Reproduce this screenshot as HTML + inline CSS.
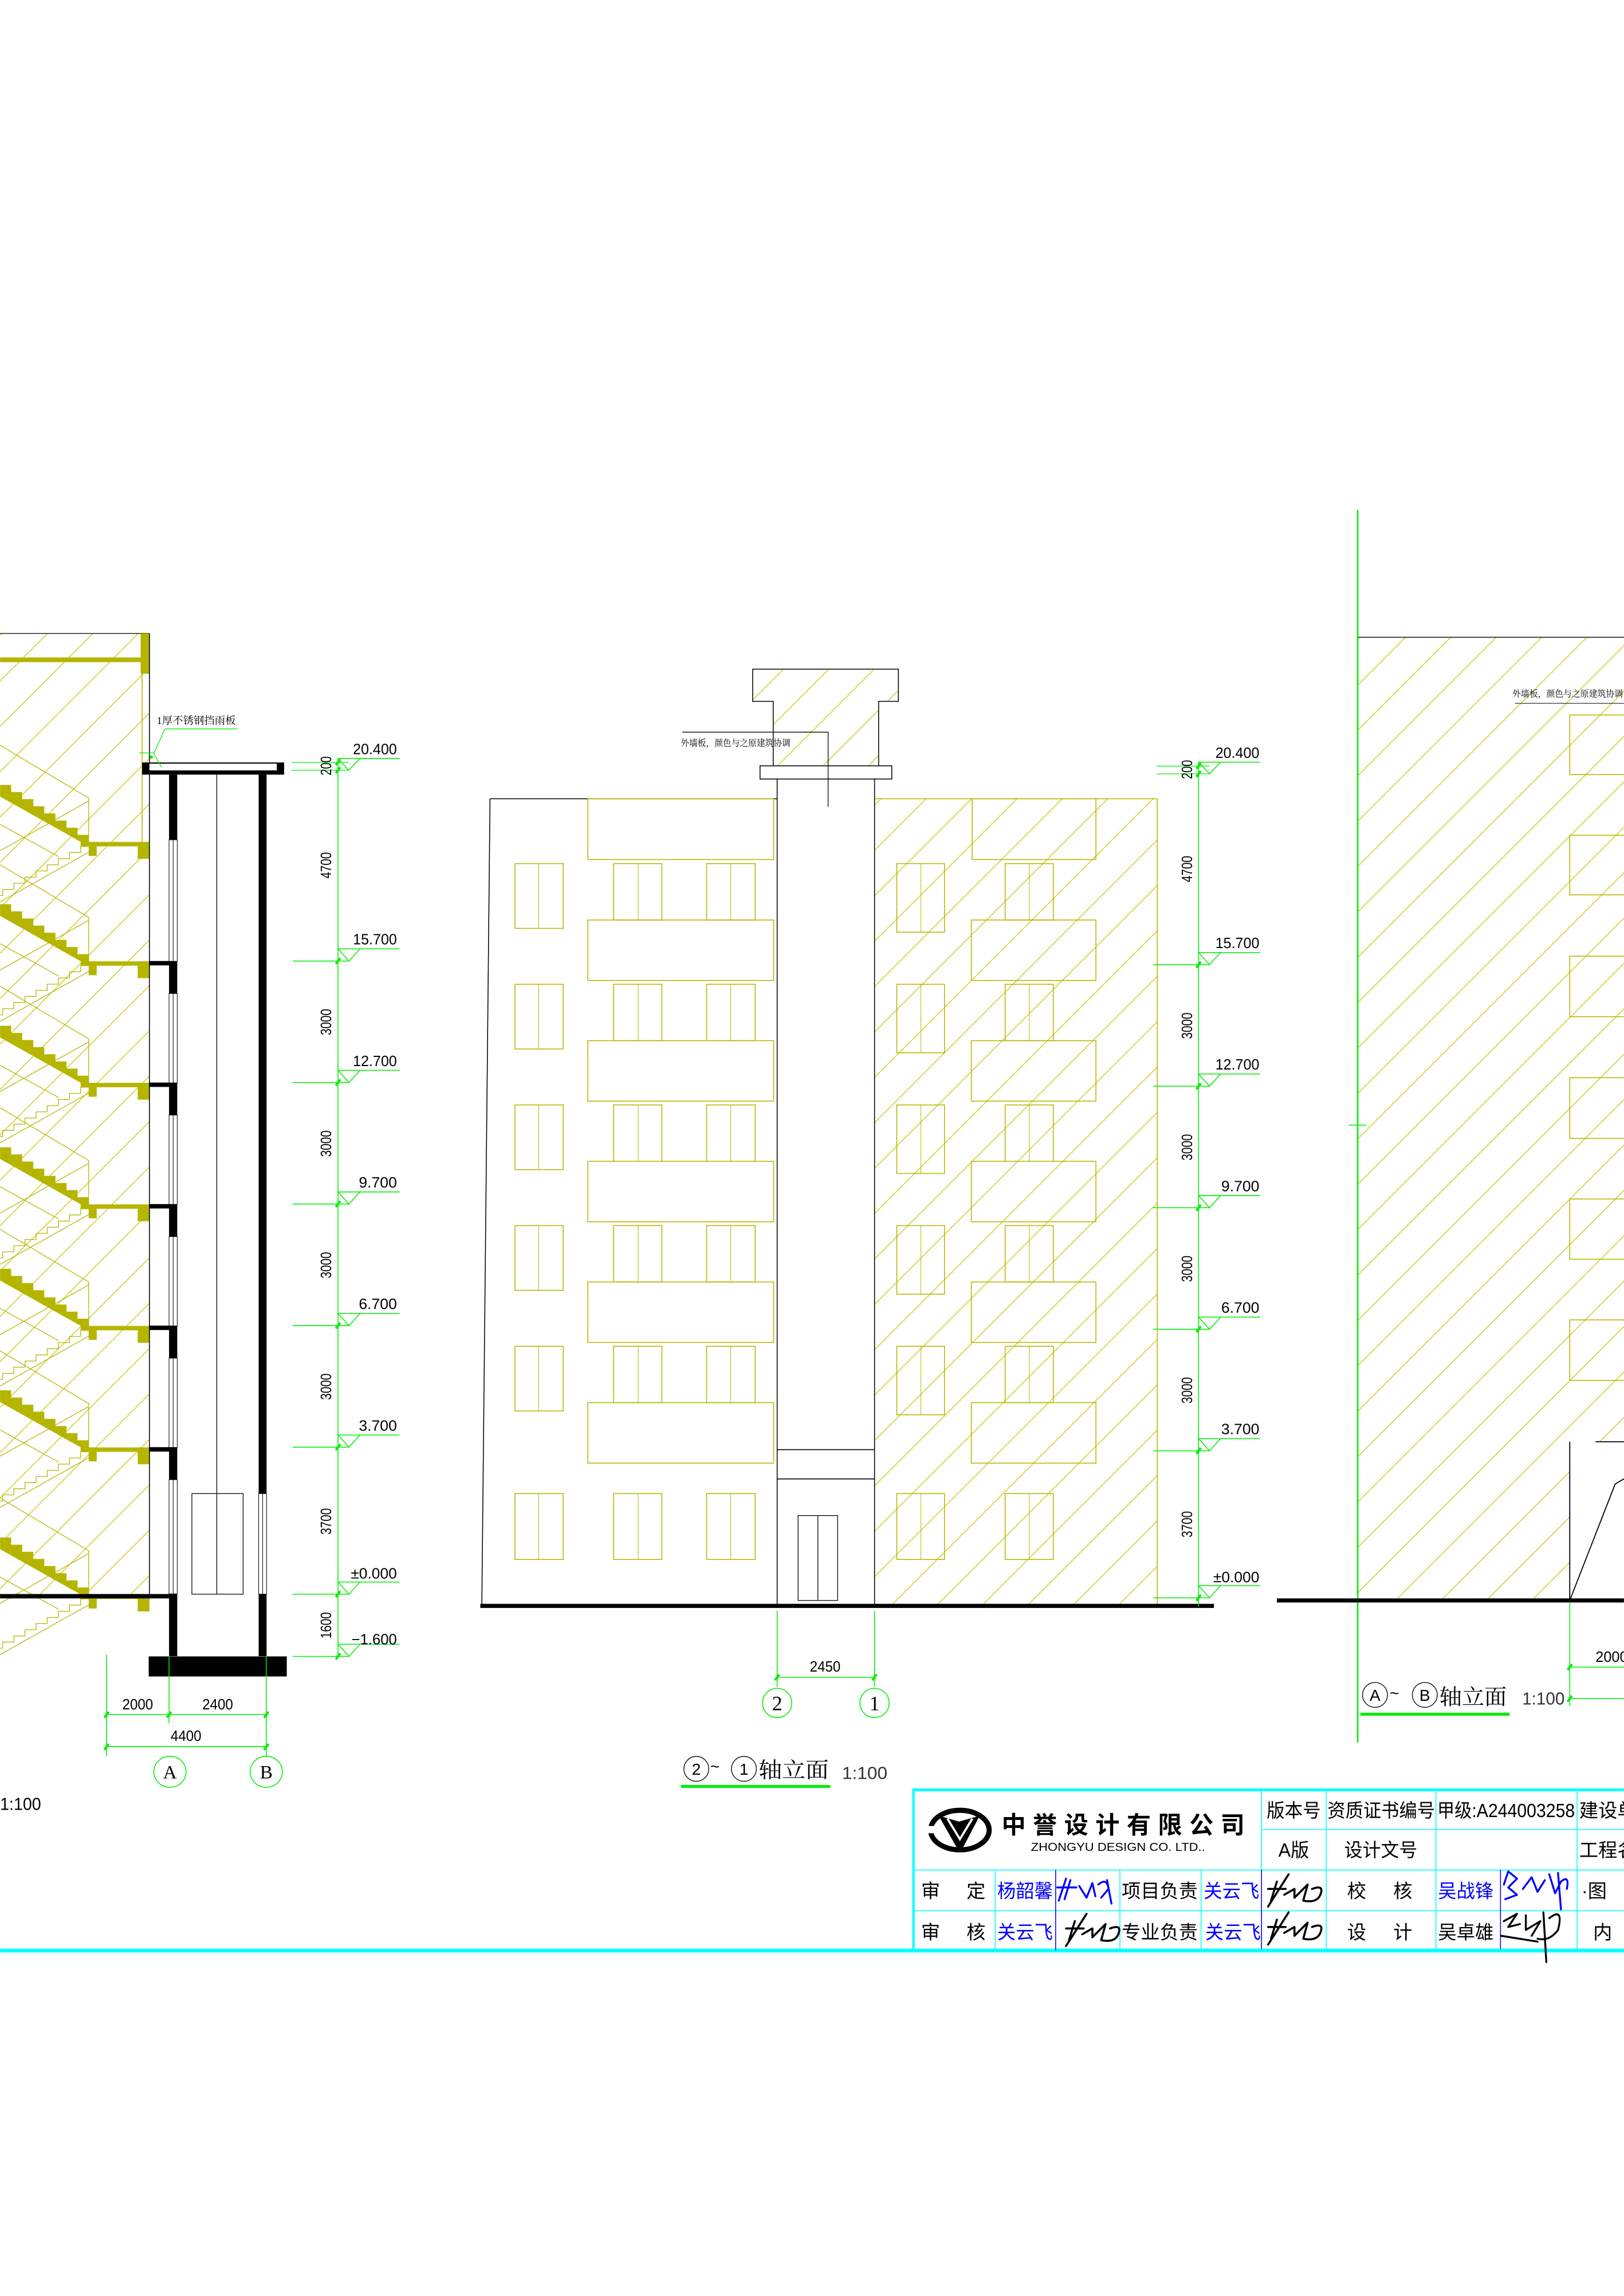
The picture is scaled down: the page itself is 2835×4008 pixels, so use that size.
<!DOCTYPE html>
<html><head><meta charset="utf-8"><style>
html,body{margin:0;padding:0;background:#fff;}
svg{display:block;}
text{font-family:"Liberation Sans","Noto Sans CJK SC",sans-serif;}
.cj{font-family:"Liberation Serif","Noto Serif CJK SC","Noto Sans CJK SC",serif;}
</style></head><body>
<svg xmlns="http://www.w3.org/2000/svg" xmlns:xlink="http://www.w3.org/1999/xlink" width="2835" height="4008" viewBox="0 0 1109 1568">
<defs>
<pattern id="h" patternUnits="userSpaceOnUse" width="31" height="31">
<path d="M0,31L31,0M-2,2L2,-2M29,33L33,29" stroke="#c4c400" stroke-width="0.5" fill="none"/>
</pattern>
<g id="fl">
<path d="M0,-39H7.56V-34.1H15.1V-29.25H22.7V-24.4H30.2V-19.5H37.8V-14.6H45.4V-9.75H52.9V-4.9H60.5V0L60.5,3L0,-31Z" fill="#b5b500"/>
<rect x="55" y="0" width="47" height="3" fill="#b5b500"/>
<rect x="60.5" y="0" width="5.5" height="9.5" fill="#b5b500"/>
<rect x="94" y="0" width="8" height="11.5" fill="#b5b500"/>
<path d="M60.5,3H55V7.2H47.4V11.4H39.8V15.6H32.2V19.8H24.6V24H17V28.2H9.4V32.4H1.8V36.6H0M60.5,7L0,41M0,-66L60.5,-30V0M60.5,-28L0,6M0,-12L40,10" stroke="#b5b500" stroke-width="0.5" fill="none"/>
</g>
<g id="mk">
<path d="M0,-8.3H42M0,-8.3L7.5,0L15,-8.3M-31,0H7.5" stroke="#00ee00" stroke-width="0.6" fill="none"/>
<path d="M-1.5,2L1.5,-2" stroke="#00ee00" stroke-width="1.6"/>
</g>
<g id="winM">
<rect x="351.7" y="0" width="32.9" height="44.2" fill="none" stroke="#b5b500" stroke-width="0.6"/>
<path d="M367.8,0V44.2" stroke="#b5b500" stroke-width="0.4"/>
<rect x="419" y="0" width="33" height="38.5" fill="none" stroke="#b5b500" stroke-width="0.6"/>
<path d="M435.8,0V38.5" stroke="#b5b500" stroke-width="0.4"/>
<rect x="482.5" y="0" width="33.2" height="38.5" fill="none" stroke="#b5b500" stroke-width="0.6"/>
<path d="M499,0V38.5" stroke="#b5b500" stroke-width="0.4"/>
<rect x="401.4" y="38.5" width="126.9" height="41.3" fill="none" stroke="#b5b500" stroke-width="0.6"/>
<rect x="612.4" y="0" width="32.6" height="46.8" fill="none" stroke="#b5b500" stroke-width="0.6"/>
<path d="M628.9,0V46.8" stroke="#b5b500" stroke-width="0.4"/>
<rect x="686.4" y="0" width="32.9" height="38.5" fill="none" stroke="#b5b500" stroke-width="0.6"/>
<path d="M702.9,0V38.5" stroke="#b5b500" stroke-width="0.4"/>
<rect x="663.3" y="38.5" width="85.1" height="41.3" fill="none" stroke="#b5b500" stroke-width="0.6"/>
</g>
</defs>

<!-- ============ LEFT SECTION ============ -->
<rect x="0" y="432.6" width="102" height="657" fill="url(#h)"/>
<path d="M0,432.6H102" stroke="#000" stroke-width="0.5"/>
<rect x="0" y="449" width="97" height="3.2" fill="#b5b500"/>
<rect x="96" y="432.6" width="6" height="27.5" fill="#b5b500"/>
<path d="M97,460V575" stroke="#b5b500" stroke-width="0.6"/>
<use xlink:href="#fl" y="575"/>
<use xlink:href="#fl" y="656.5"/>
<use xlink:href="#fl" y="739.5"/>
<use xlink:href="#fl" y="822.5"/>
<use xlink:href="#fl" y="905.5"/>
<use xlink:href="#fl" y="988.5"/>
<use xlink:href="#fl" y="1089"/>
<path d="M102,432.6V1089" stroke="#000" stroke-width="0.6"/>
<rect x="0" y="1088.6" width="115.4" height="3" fill="#000"/>
<rect x="97" y="520.7" width="97" height="8.3" fill="#000"/>
<rect x="102" y="521.5" width="87" height="4.6" fill="#fff"/>
<rect x="115.4" y="529" width="5.6" height="602" fill="#000"/>
<rect x="176.6" y="529" width="5.4" height="602" fill="#000"/>
<g fill="#fff" stroke="#000" stroke-width="0.4">
<rect x="115.4" y="573.5" width="5.6" height="83"/>
<rect x="115.4" y="678.5" width="5.6" height="61"/>
<rect x="115.4" y="761.5" width="5.6" height="61"/>
<rect x="115.4" y="844.5" width="5.6" height="61"/>
<rect x="115.4" y="927.5" width="5.6" height="61"/>
<rect x="115.4" y="1010.5" width="5.6" height="78"/>
<rect x="176.6" y="1020" width="5.4" height="68.7"/>
</g>
<path d="M118.2,573.5V656.5M118.2,678.5V739.5M118.2,761.5V822.5M118.2,844.5V905.5M118.2,927.5V988.5M118.2,1010.5V1088.6M179.3,1020V1088.6" stroke="#000" stroke-width="0.4"/>
<g fill="#000">
<rect x="102" y="656.3" width="14" height="3"/>
<rect x="102" y="739.3" width="14" height="3"/>
<rect x="102" y="822.3" width="14" height="3"/>
<rect x="102" y="905.3" width="14" height="3"/>
<rect x="102" y="988.3" width="14" height="3"/>
</g>
<path d="M148,529V1088.6" stroke="#000" stroke-width="0.5"/>
<rect x="131" y="1020" width="35" height="68.7" fill="none" stroke="#000" stroke-width="0.5"/>
<rect x="101.5" y="1131.2" width="94.3" height="13.7" fill="#000"/>
<text x="107" y="494.5" font-size="7.2" class="cj" fill="#000">1厚不锈钢挡雨板</text>
<path d="M112.6,497.8H161.8M112.6,497.8L105,514.6M105,514.6L110.3,524M95,514.2H105" stroke="#00ee00" stroke-width="0.5" fill="none"/>
<circle cx="103.3" cy="517" r="1.1" fill="#00ee00"/>
<path d="M230.8,518V1131.2" stroke="#00ee00" stroke-width="0.6"/>
<path d="M199,520.7H238M199,526H238" stroke="#00ee00" stroke-width="0.5"/>
<path d="M229.3,522.5L232.3,518.5M229.3,528L232.3,524" stroke="#00ee00" stroke-width="1.6"/>
<path d="M230.8,518H273M230.8,518L238,526L246,518" stroke="#00ee00" stroke-width="0.6" fill="none"/>
<use xlink:href="#mk" x="230.8" y="656.3"/>
<use xlink:href="#mk" x="230.8" y="739.3"/>
<use xlink:href="#mk" x="230.8" y="822.3"/>
<use xlink:href="#mk" x="230.8" y="905.3"/>
<use xlink:href="#mk" x="230.8" y="988.3"/>
<use xlink:href="#mk" x="230.8" y="1088.7"/>
<use xlink:href="#mk" x="230.8" y="1131.2"/>
<g font-size="10" fill="#000">
<text x="241" y="515" textLength="30" lengthAdjust="spacingAndGlyphs">20.400</text>
<text x="241" y="645" textLength="30" lengthAdjust="spacingAndGlyphs">15.700</text>
<text x="241" y="728" textLength="30" lengthAdjust="spacingAndGlyphs">12.700</text>
<text x="245" y="811" textLength="26" lengthAdjust="spacingAndGlyphs">9.700</text>
<text x="245" y="894" textLength="26" lengthAdjust="spacingAndGlyphs">6.700</text>
<text x="245" y="977" textLength="26" lengthAdjust="spacingAndGlyphs">3.700</text>
<text x="239.5" y="1078" textLength="31.5" lengthAdjust="spacingAndGlyphs">±0.000</text>
<text x="240" y="1123" textLength="31" lengthAdjust="spacingAndGlyphs">−1.600</text>
</g>
<g font-size="10" fill="#000" text-anchor="middle">
<text transform="translate(226,523) rotate(-90)" textLength="13" lengthAdjust="spacingAndGlyphs">200</text>
<text transform="translate(226,591) rotate(-90)" textLength="18" lengthAdjust="spacingAndGlyphs">4700</text>
<text transform="translate(226,698) rotate(-90)" textLength="18" lengthAdjust="spacingAndGlyphs">3000</text>
<text transform="translate(226,781) rotate(-90)" textLength="18" lengthAdjust="spacingAndGlyphs">3000</text>
<text transform="translate(226,864) rotate(-90)" textLength="18" lengthAdjust="spacingAndGlyphs">3000</text>
<text transform="translate(226,947) rotate(-90)" textLength="18" lengthAdjust="spacingAndGlyphs">3000</text>
<text transform="translate(226,1039) rotate(-90)" textLength="18" lengthAdjust="spacingAndGlyphs">3700</text>
<text transform="translate(226,1110) rotate(-90)" textLength="18" lengthAdjust="spacingAndGlyphs">1600</text>
</g>
<path d="M72.7,1130V1199.3M115.4,1131V1177M181.8,1131V1199.3M72.7,1170.9H181.8M72.7,1192.8H181.8" stroke="#00ee00" stroke-width="0.6" fill="none"/>
<path d="M71.2,1173L74.2,1169M113.9,1173L116.9,1169M180.3,1173L183.3,1169M71.2,1195L74.2,1191M180.3,1195L183.3,1191" stroke="#00ee00" stroke-width="1.6"/>
<g font-size="10" fill="#000" text-anchor="middle">
<text x="94" y="1167.4" textLength="21" lengthAdjust="spacingAndGlyphs">2000</text>
<text x="148.6" y="1167.4" textLength="21" lengthAdjust="spacingAndGlyphs">2400</text>
<text x="127" y="1189" textLength="21" lengthAdjust="spacingAndGlyphs">4400</text>
</g>
<ellipse cx="116" cy="1210" rx="11" ry="10.6" fill="none" stroke="#00ee00" stroke-width="0.6"/>
<ellipse cx="181.8" cy="1210" rx="11" ry="10.6" fill="none" stroke="#00ee00" stroke-width="0.6"/>
<text x="116" y="1214.5" font-size="13" text-anchor="middle" style="font-family:'Liberation Serif',serif">A</text>
<text x="181.8" y="1214.5" font-size="13" text-anchor="middle" style="font-family:'Liberation Serif',serif">B</text>
<text x="0" y="1236" font-size="12" textLength="28" lengthAdjust="spacingAndGlyphs">1:100</text>

<!-- ============ MIDDLE ELEVATION ============ -->
<rect x="597.2" y="545.5" width="193.1" height="551.5" fill="url(#h)"/>
<path d="M334.6,545.5H530.7M329,1097L334.6,545.5" stroke="#000" stroke-width="0.6" fill="none"/>
<path d="M597.2,545.5H790.3V1097" stroke="#b5b500" stroke-width="0.6" fill="none"/>
<rect x="401.4" y="545.5" width="126.9" height="41.5" fill="none" stroke="#b5b500" stroke-width="0.6"/>
<rect x="663.9" y="545.5" width="84.5" height="41.5" fill="none" stroke="#b5b500" stroke-width="0.6"/>
<use xlink:href="#winM" y="589.8"/>
<use xlink:href="#winM" y="672.2"/>
<use xlink:href="#winM" y="754.6"/>
<use xlink:href="#winM" y="837"/>
<use xlink:href="#winM" y="919.4"/>
<g fill="none" stroke="#b5b500" stroke-width="0.6">
<rect x="351.7" y="1020" width="32.9" height="45"/>
<rect x="419" y="1020" width="33" height="45"/>
<rect x="482.5" y="1020" width="33.2" height="45"/>
<rect x="612.4" y="1020" width="32.6" height="45"/>
<rect x="686.4" y="1020" width="32.9" height="45"/>
<path d="M367.8,1020V1065M435.8,1020V1065M499,1020V1065M628.9,1020V1065M702.9,1020V1065" stroke-width="0.4"/>
</g>
<rect x="514" y="457" width="99.5" height="22" fill="url(#h)"/>
<rect x="528" y="479" width="72" height="44" fill="url(#h)"/>
<path d="M528,523V479H514V457H613.5V479H600V523" stroke="#000" stroke-width="0.6" fill="none"/>
<rect x="519" y="523" width="90" height="9" fill="#fff" stroke="#000" stroke-width="0.6"/>
<path d="M530.7,532V1097M597.2,532V1097M530.7,990H597.2M530.7,1010H597.2" stroke="#000" stroke-width="0.6" fill="none"/>
<rect x="545" y="1035" width="27" height="58" fill="none" stroke="#000" stroke-width="0.5"/>
<path d="M558.5,1035V1093" stroke="#000" stroke-width="0.5"/>
<text x="464.8" y="509.5" font-size="6.3" class="cj" textLength="75" lengthAdjust="spacingAndGlyphs">外墙板，颜色与之原建筑协调</text>
<path d="M466,500H565.5V551" stroke="#000" stroke-width="0.5" fill="none"/>
<rect x="328" y="1095.3" width="501" height="2.8" fill="#000"/>
<path d="M818.5,520V1097" stroke="#00ee00" stroke-width="0.6"/>
<path d="M790,523.2H826M790,528.5H826" stroke="#00ee00" stroke-width="0.5"/>
<path d="M817,525L820,521M817,530.5L820,526.5" stroke="#00ee00" stroke-width="1.6"/>
<path d="M818.5,520.5H860.5M818.5,520.5L826,528.5L833.5,520.5" stroke="#00ee00" stroke-width="0.6" fill="none"/>
<use xlink:href="#mk" x="818.5" y="658.8"/>
<use xlink:href="#mk" x="818.5" y="741.8"/>
<use xlink:href="#mk" x="818.5" y="824.8"/>
<use xlink:href="#mk" x="818.5" y="907.8"/>
<use xlink:href="#mk" x="818.5" y="990.8"/>
<use xlink:href="#mk" x="818.5" y="1091.2"/>
<g font-size="10" fill="#000">
<text x="830" y="517.5" textLength="30" lengthAdjust="spacingAndGlyphs">20.400</text>
<text x="830" y="647.5" textLength="30" lengthAdjust="spacingAndGlyphs">15.700</text>
<text x="830" y="730.5" textLength="30" lengthAdjust="spacingAndGlyphs">12.700</text>
<text x="834" y="813.5" textLength="26" lengthAdjust="spacingAndGlyphs">9.700</text>
<text x="834" y="896.5" textLength="26" lengthAdjust="spacingAndGlyphs">6.700</text>
<text x="834" y="979.5" textLength="26" lengthAdjust="spacingAndGlyphs">3.700</text>
<text x="828.5" y="1080.5" textLength="31.5" lengthAdjust="spacingAndGlyphs">±0.000</text>
</g>
<g font-size="10" fill="#000" text-anchor="middle">
<text transform="translate(814,525.5) rotate(-90)" textLength="13" lengthAdjust="spacingAndGlyphs">200</text>
<text transform="translate(814,593.5) rotate(-90)" textLength="18" lengthAdjust="spacingAndGlyphs">4700</text>
<text transform="translate(814,700.5) rotate(-90)" textLength="18" lengthAdjust="spacingAndGlyphs">3000</text>
<text transform="translate(814,783.5) rotate(-90)" textLength="18" lengthAdjust="spacingAndGlyphs">3000</text>
<text transform="translate(814,866.5) rotate(-90)" textLength="18" lengthAdjust="spacingAndGlyphs">3000</text>
<text transform="translate(814,949.5) rotate(-90)" textLength="18" lengthAdjust="spacingAndGlyphs">3000</text>
<text transform="translate(814,1041) rotate(-90)" textLength="18" lengthAdjust="spacingAndGlyphs">3700</text>
</g>
<path d="M530.7,1100V1152M597.2,1100V1152M530.7,1145.5H597.2" stroke="#00ee00" stroke-width="0.6" fill="none"/>
<path d="M529.2,1147.5L532.2,1143.5M595.7,1147.5L598.7,1143.5" stroke="#00ee00" stroke-width="1.6"/>
<text x="563.5" y="1141.5" font-size="10" text-anchor="middle" textLength="21" lengthAdjust="spacingAndGlyphs">2450</text>
<circle cx="530.7" cy="1163" r="10" fill="none" stroke="#00ee00" stroke-width="0.6"/>
<circle cx="597.2" cy="1163" r="10" fill="none" stroke="#00ee00" stroke-width="0.6"/>
<text x="530.7" y="1168" font-size="14" text-anchor="middle" style="font-family:'Liberation Serif',serif">2</text>
<text x="597.2" y="1168" font-size="14" text-anchor="middle" style="font-family:'Liberation Serif',serif">1</text>
<circle cx="475.5" cy="1208" r="8.5" fill="none" stroke="#000" stroke-width="0.5"/>
<text x="475.5" y="1212" font-size="11" text-anchor="middle">2</text>
<text x="485" y="1210" font-size="11">~</text>
<circle cx="508" cy="1208" r="8.5" fill="none" stroke="#000" stroke-width="0.5"/>
<text x="508" y="1212" font-size="11" text-anchor="middle">1</text>
<text x="518" y="1214" font-size="15" class="cj" textLength="48" lengthAdjust="spacingAndGlyphs">轴立面</text>
<text x="575" y="1215" font-size="12" fill="#333" textLength="31" lengthAdjust="spacingAndGlyphs">1:100</text>
<rect x="465" y="1219" width="102" height="2" fill="#00ee00"/>

<!-- ============ RIGHT ELEVATION ============ -->
<rect x="927.2" y="435.2" width="182" height="657.8" fill="url(#h)"/>
<path d="M927.2,435.2H1109" stroke="#000" stroke-width="0.5"/>
<path d="M927.2,348.3V1190" stroke="#00ee00" stroke-width="1"/>
<path d="M921,768.4H933" stroke="#00ee00" stroke-width="0.6"/>
<g fill="none" stroke="#b5b500" stroke-width="0.6">
<rect x="1072" y="488.3" width="40" height="40.7"/>
<rect x="1072" y="570.4" width="40" height="40.7"/>
<rect x="1072" y="653" width="40" height="41.3"/>
<rect x="1072" y="736" width="40" height="41.5"/>
<rect x="1072" y="818.8" width="40" height="41.2"/>
<rect x="1072" y="901.4" width="40" height="41.3"/>
</g>
<text x="1032.8" y="476" font-size="6.3" class="cj" textLength="75.5" lengthAdjust="spacingAndGlyphs">外墙板，颜色与之原建筑协调</text>
<path d="M1034.6,480.3H1109" stroke="#000" stroke-width="0.4"/>
<rect x="1072" y="984.6" width="37" height="108.4" fill="#fff"/>
<path d="M1072,984.6V1093M1089.6,984.6H1109M1072,1093L1103,1013.5L1109.3,1009.8" stroke="#000" stroke-width="0.7" fill="none"/>
<rect x="872" y="1091.6" width="237" height="2.8" fill="#000"/>
<path d="M1072,1094V1165M1072,1138.5H1109M1072,1160H1109" stroke="#00ee00" stroke-width="0.6" fill="none"/>
<path d="M1070.5,1140.5L1073.5,1136.5M1070.5,1162L1073.5,1158" stroke="#00ee00" stroke-width="1.6"/>
<text x="1089.6" y="1135" font-size="10" textLength="22" lengthAdjust="spacingAndGlyphs">2000</text>
<circle cx="939" cy="1157.5" r="8.5" fill="none" stroke="#000" stroke-width="0.5"/>
<text x="939" y="1161.5" font-size="11" text-anchor="middle">A</text>
<text x="949" y="1160" font-size="11">~</text>
<circle cx="973" cy="1157.5" r="8.5" fill="none" stroke="#000" stroke-width="0.5"/>
<text x="973" y="1161.5" font-size="11" text-anchor="middle">B</text>
<text x="983" y="1164" font-size="15" class="cj" textLength="46" lengthAdjust="spacingAndGlyphs">轴立面</text>
<text x="1039.5" y="1164" font-size="12" fill="#333" textLength="29" lengthAdjust="spacingAndGlyphs">1:100</text>
<rect x="929" y="1169.7" width="102" height="2" fill="#00ee00"/>

<!-- ============ TITLE BLOCK ============ -->
<rect x="623" y="1221.4" width="486" height="1.9" fill="#00ffff"/>
<rect x="0" y="1330.8" width="1109" height="2.6" fill="#00ffff"/>
<rect x="623" y="1221.4" width="1.6" height="111" fill="#00ffff"/>
<g stroke="#00ffff" stroke-width="0.6" fill="none">
<path d="M861.5,1222V1331M905.7,1222V1331M980.6,1222V1331M1077,1222V1331"/>
<path d="M861.5,1249.5H1109M624,1277.1H1109M624,1304.9H1109"/>
<path d="M679.6,1277V1331M764.8,1277V1331M820.2,1277V1331"/>
</g>
<path d="M720.9,1277V1332M861.5,1277V1331M1024.7,1277V1331" stroke="#0000ff" stroke-width="0.6"/>
<ellipse cx="655.5" cy="1249.8" rx="20" ry="13.5" fill="none" stroke="#000" stroke-width="3.5"/>
<rect x="632" y="1247" width="10" height="5" fill="#fff"/>
<path d="M641,1240L655,1244L669,1240L657.5,1262L653.5,1262Z" fill="#000"/>
<path d="M647,1242L655.5,1256L664,1242" stroke="#fff" stroke-width="1.5" fill="none"/>
<text x="684" y="1252" font-size="16.5" font-weight="bold" style="font-family:'Noto Sans CJK SC',sans-serif;font-weight:bold" textLength="166" lengthAdjust="spacing">中誉设计有限公司</text>
<text x="704" y="1264" font-size="8" textLength="119" lengthAdjust="spacingAndGlyphs">ZHONGYU DESIGN CO. LTD..</text>
<g font-size="13" class="cj" fill="#000">
<text x="865" y="1241" textLength="37" lengthAdjust="spacingAndGlyphs">版本号</text>
<text x="906.5" y="1241" textLength="73.5" lengthAdjust="spacingAndGlyphs">资质证书编号</text>
<text x="981.5" y="1241" textLength="94" lengthAdjust="spacingAndGlyphs">甲级:A244003258</text>
<text x="1078.5" y="1241">建设单</text>
<text x="873" y="1268" textLength="21" lengthAdjust="spacingAndGlyphs">A版</text>
<text x="918" y="1268" textLength="50" lengthAdjust="spacingAndGlyphs">设计文号</text>
<text x="1078.5" y="1268">工程名</text>
<text x="629" y="1296">审</text>
<text x="660" y="1296">定</text>
<text x="766" y="1296" textLength="52" lengthAdjust="spacingAndGlyphs">项目负责</text>
<text x="920" y="1296">校</text>
<text x="951.5" y="1296">核</text>
<text x="1080" y="1296">·图</text>
<text x="629" y="1324">审</text>
<text x="660" y="1324">核</text>
<text x="766" y="1324" textLength="52" lengthAdjust="spacingAndGlyphs">专业负责</text>
<text x="920" y="1324">设</text>
<text x="951.5" y="1324">计</text>
<text x="982" y="1324" textLength="38" lengthAdjust="spacingAndGlyphs">吴卓雄</text>
<text x="1088" y="1324">内</text>
</g>
<g font-size="13" class="cj" fill="#0000ff">
<text x="681" y="1296" textLength="38" lengthAdjust="spacingAndGlyphs">杨韶馨</text>
<text x="822" y="1296" textLength="38" lengthAdjust="spacingAndGlyphs">关云飞</text>
<text x="982" y="1296" textLength="38" lengthAdjust="spacingAndGlyphs">吴战锋</text>
<text x="681" y="1324" textLength="38" lengthAdjust="spacingAndGlyphs">关云飞</text>
<text x="823" y="1324" textLength="38" lengthAdjust="spacingAndGlyphs">关云飞</text>
</g>
<g fill="none" stroke-linecap="round" stroke-linejoin="round">
<path d="M723,1298L728,1283M722,1289H735M731,1284L727,1297M737,1288L742,1296L746,1286L748,1295M750,1287Q756,1282 757,1290L752,1296M756,1284L759,1300" stroke="#0000ff" stroke-width="1.3"/>
<path d="M1027,1287L1030,1278L1036,1283L1030,1289L1036,1294L1028,1297M1040,1290L1046,1282L1050,1292L1055,1284M1058,1280L1062,1293L1066,1285Q1072,1280 1070,1290M1064,1279L1066,1304" stroke="#0000ff" stroke-width="1.3"/>
<g stroke="#000" stroke-width="1.4">
<path id="sg" d="M866,1302L880,1280M866,1290H878M872,1285L868,1298M877,1294L884,1290L884,1296L893,1287L890,1298Q900,1300 902,1293Q904,1287 896,1290"/>
<use xlink:href="#sg" y="26"/>
<use xlink:href="#sg" x="-138" y="27"/>
<path d="M1027,1312L1036,1307L1030,1316L1038,1314M1042,1308L1042,1318L1052,1312L1046,1322M1025,1322L1050,1326M1054,1306L1056,1340M1058,1310Q1068,1302 1064,1318Q1058,1326 1050,1324" stroke-width="1.3"/>
</g>
</g>
</svg>
</body></html>
